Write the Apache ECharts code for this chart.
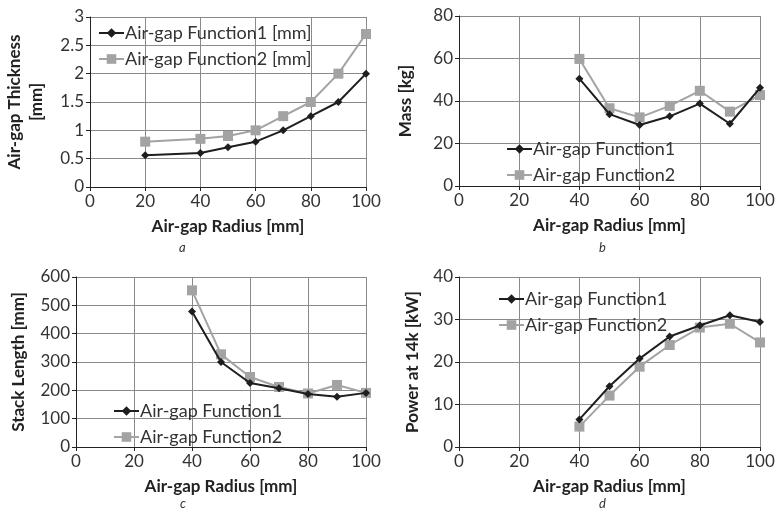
<!DOCTYPE html>
<html>
<head>
<meta charset="utf-8">
<script src="https://cdn.jsdelivr.net/npm/echarts@6/dist/echarts.min.js"></script>
<style>
  html, body { margin: 0; padding: 0; background: #fff; }
  #main { width: 778px; height: 512px; }
</style>
</head>
<body>
<div id="main"></div>
<script>
// radius values (mm)
const radiusA = [20, 40, 50, 60, 70, 80, 90, 100]
const radiusBCD = [40, 50, 60, 70, 80, 90, 100]

// a: air-gap thickness
const thick1 = [0.56, 0.6, 0.7, 0.8, 1.0, 1.25, 1.5, 2.0]
const thick2 = [0.8, 0.85, 0.9, 1.0, 1.25, 1.5, 2.0, 2.7]
// b: mass
const mass1 = [50.5, 33.8, 28.7, 32.8, 38.8, 29.3, 46.2]
const mass2 = [59.8, 36.6, 32.3, 37.7, 44.8, 35.0, 42.8]
// c: stack length
const stack1 = [478, 300, 226, 207, 187, 177, 191]
const stack2 = [553, 327, 247, 212, 189, 219, 191]
// d: power at 14k
const power1 = [6.5, 14.3, 20.8, 26.0, 28.6, 31.0, 29.4]
const power2 = [4.8, 12.1, 18.9, 24.0, 28.1, 29.0, 24.6]

const FONT = 'Lato'
const DARK = '#1e1e1e'
const GRAY = '#a3a3a3'
const GRID = '#8a8a8a'

const pairs = (xs, ys) => xs.map((x, i) => [x, ys[i]])

const mkX = (idx) => ({
  type: 'value', gridIndex: idx, min: 0, max: 100, interval: 20,
  name: 'Air-gap Radius [mm]', nameLocation: 'middle', nameGap: 31,
  nameTextStyle: { fontFamily: FONT, fontSize: 17, fontWeight: 'bold', color: '#222' },
  axisLine: { lineStyle: { color: '#222', width: 1 } },
  axisTick: { show: true, length: 4, lineStyle: { color: '#222' } },
  axisLabel: { fontFamily: FONT, fontSize: 17, color: '#333', margin: 6 },
  splitLine: { show: true, lineStyle: { color: GRID, width: 1 } }
})

const mkY = (idx, name, max, interval, gap) => ({
  type: 'value', gridIndex: idx, min: 0, max: max, interval: interval,
  name: name, nameLocation: 'middle', nameRotate: 90, nameGap: gap,
  nameTextStyle: { fontFamily: FONT, fontSize: 17, fontWeight: 'bold', color: '#222', lineHeight: 22 },
  axisLine: { show: true, lineStyle: { color: '#222', width: 1 } },
  axisTick: { show: true, length: 4, lineStyle: { color: '#222' } },
  axisLabel: { fontFamily: FONT, fontSize: 17, color: '#333', margin: 6 },
  splitLine: { show: true, lineStyle: { color: GRID, width: 1 } }
})

const mkSeries = (name, idx, data, dark) => ({
  name: name, type: 'line', xAxisIndex: idx, yAxisIndex: idx,
  data: data,
  symbol: dark ? 'diamond' : 'rect',
  symbolSize: dark ? 8 : 10,
  lineStyle: { color: dark ? DARK : GRAY, width: 2 },
  itemStyle: { color: dark ? DARK : GRAY },
  z: dark ? 3 : 2
})

const mkLegend = (names, left, top) => ({
  orient: 'vertical', left: left, top: top,
  itemWidth: 25, itemHeight: 12, itemGap: 8,
  textStyle: { fontFamily: FONT, fontSize: 18, lineHeight: 18, color: '#333', padding: [0, 0, 0, -4] },
  data: names
})

const caption = (text, x, y) => ({
  type: 'text', left: x, top: y,
  style: { text: text, font: 'italic 13px ' + FONT, fill: '#333' }
})

const chart = echarts.init(document.getElementById('main'), null, { renderer: 'canvas' })
chart.setOption({
  animation: false,
  backgroundColor: '#fff',
  grid: [
    { left: 90, right: 412, top: 17, height: 170 },
    { left: 459, right: 18, top: 16, height: 170 },
    { left: 76, right: 412, top: 277, height: 170 },
    { left: 459, right: 18, top: 277, height: 170 }
  ],
  xAxis: [mkX(0), mkX(1), mkX(2), mkX(3)],
  yAxis: [
    mkY(0, 'Air-gap Thickness\n[mm]', 3, 0.5, 42),
    mkY(1, 'Mass [kg]', 80, 20, 42),
    mkY(2, 'Stack Length [mm]', 600, 100, 46),
    mkY(3, 'Power at 14k [kW]', 40, 10, 35)
  ],
  legend: [
    mkLegend(['Air-gap Function1 [mm]', 'Air-gap Function2 [mm]'], 93, 19),
    mkLegend(['Air-gap Function1', 'Air-gap Function2'], 501, 135),
    mkLegend(['Air-gap Function1 ', 'Air-gap Function2 '], 108, 397),
    mkLegend(['Air-gap Function1  ', 'Air-gap Function2  '], 493, 285)
  ],
  series: [
    mkSeries('Air-gap Function1 [mm]', 0, pairs(radiusA, thick1), true),
    mkSeries('Air-gap Function2 [mm]', 0, pairs(radiusA, thick2), false),
    mkSeries('Air-gap Function1', 1, pairs(radiusBCD, mass1), true),
    mkSeries('Air-gap Function2', 1, pairs(radiusBCD, mass2), false),
    mkSeries('Air-gap Function1 ', 2, pairs(radiusBCD, stack1), true),
    mkSeries('Air-gap Function2 ', 2, pairs(radiusBCD, stack2), false),
    mkSeries('Air-gap Function1  ', 3, pairs(radiusBCD, power1), true),
    mkSeries('Air-gap Function2  ', 3, pairs(radiusBCD, power2), false)
  ],
  graphic: [
    caption('a', 179, 241),
    caption('b', 599, 241),
    caption('c', 180, 497),
    caption('d', 599, 497)
  ]
})
</script>
</body>
</html>
